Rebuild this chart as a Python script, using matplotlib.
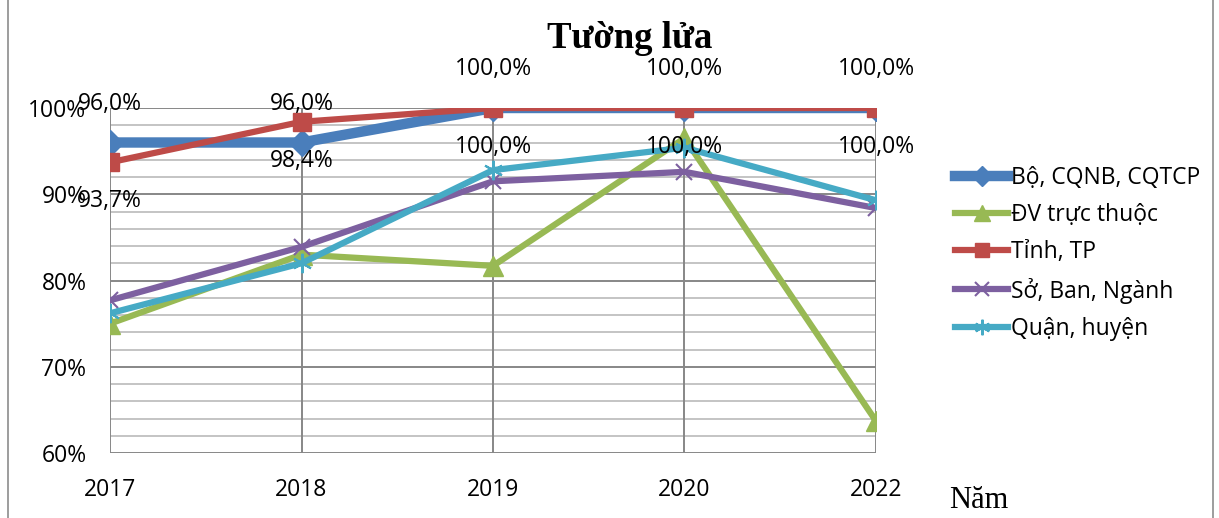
import matplotlib
matplotlib.use("Agg")
import matplotlib.pyplot as plt
from matplotlib.lines import Line2D
import numpy as np

plt.rcParams['font.family'] = ['Open Sans', 'DejaVu Sans']

# data
years = ["2017", "2018", "2019", "2020", "2022"]
bo = [96.0, 96.0, 100.0, 100.0, 100.0]
dv = [75.0, 83.0, 81.7, 96.5, 63.7]
tinh = [93.7, 98.4, 100.0, 100.0, 100.0]
so = [77.7, 83.9, 91.5, 92.6, 88.4]
quan = [76.2, 82.0, 92.8, 95.4, 89.3]
bo_labels = ["96,0%", "96,0%", "100,0%", "100,0%", "100,0%"]
tinh_labels = ["93,7%", "98,4%", "100,0%", "100,0%", "100,0%"]

x = np.arange(len(years))
fs = 16.5

fig = plt.figure(figsize=(12.19, 5.18), dpi=100)
ax = fig.add_axes([110/1219, 1-453/518, (876-110)/1219, (453-108)/518])

# gridlines
for v in np.arange(60, 101, 2):
    major = (v % 10 == 0)
    ax.axhline(v, color='#878787' if major else '#c4c4c4', lw=1.4, zorder=0)
for xi in x:
    ax.axvline(xi, color='#878787', lw=1.4, zorder=0)

ax.plot(x, bo, color='#4A7EBB', lw=7.5, marker='D', ms=13, label='Bộ, CQNB, CQTCP', zorder=3)
ax.plot(x, dv, color='#98B954', lw=4.5, marker='^', ms=14, label='ĐV trực thuộc', zorder=3)
ax.plot(x, tinh, color='#BE4B48', lw=4.5, marker='s', ms=13, label='Tỉnh, TP', zorder=4)
ax.plot(x, so, color='#7D60A0', lw=4.5, marker='x', ms=12, mew=1.5, label='Sở, Ban, Ngành', zorder=3)
ax.plot(x, quan, color='#46AAC5', lw=4.5, marker=(6, 2, 0), ms=14, mew=1.5, label='Quận, huyện', zorder=3)

for xi, v, t in zip(x, bo, bo_labels):
    ax.annotate(t, (xi, v), xytext=(0, 28), textcoords='offset points',
                ha='center', va='center', fontsize=fs, zorder=6)
for xi, v, t in zip(x, tinh, tinh_labels):
    ax.annotate(t, (xi, v), xytext=(0, -28), textcoords='offset points',
                ha='center', va='center', fontsize=fs, zorder=6)

ax.set_xlim(0, 4)
ax.set_ylim(60, 100)
ax.set_yticks([60, 70, 80, 90, 100])
ax.set_yticklabels(["60%", "70%", "80%", "90%", "100%"])
ax.set_xticks(x)
ax.set_xticklabels(years)
ax.tick_params(axis='both', length=0, labelsize=fs)
ax.tick_params(axis='y', pad=17)
ax.tick_params(axis='x', pad=18)
for s in ax.spines.values():
    s.set_visible(False)

fig.text(630/1219, 1-38/518, "Tường lửa", family='Liberation Serif', fontweight='bold',
         fontsize=26.5, ha='center', va='center')
fig.text(949/1219, 1-500/518, "Năm", family='Liberation Serif', fontsize=22,
         ha='left', va='center')

ax.legend(loc='upper left', bbox_to_anchor=(934/1219, 1-145/518), bbox_transform=fig.transFigure,
          frameon=False, fontsize=fs, handlelength=2.35, labelspacing=0.58, handletextpad=0.1,
          markerscale=0.8)

# outer frame
fig.add_artist(Line2D([8/1219, 8/1219], [0, 1], color='#8c8c8c', lw=1.2))
fig.add_artist(Line2D([1213/1219, 1213/1219], [0, 1], color='#8c8c8c', lw=1.2))

fig.savefig("out.png", dpi=100)
